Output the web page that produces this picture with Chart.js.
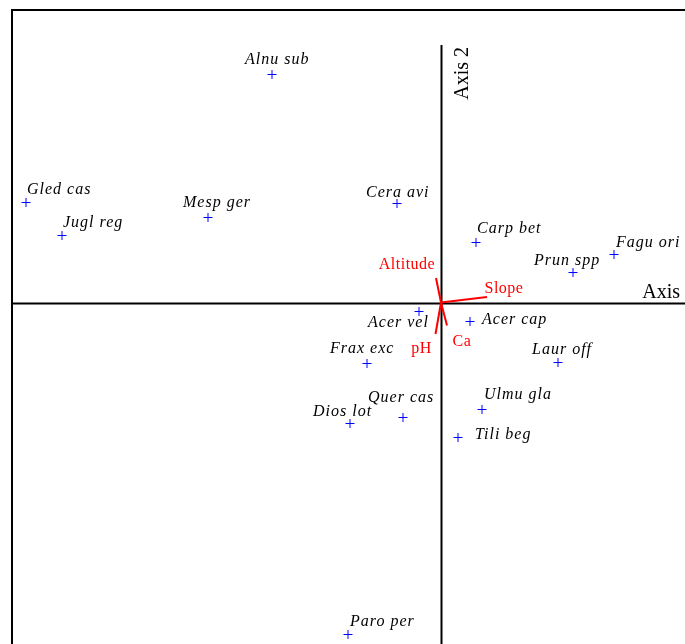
<!DOCTYPE html>
<html>
<head>
<meta charset="utf-8">
<script src="https://cdn.jsdelivr.net/npm/chart.js@4/dist/chart.umd.min.js"></script>
<style>
  html, body { margin: 0; padding: 0; background: #fff; }
  canvas { display: block; }
</style>
</head>
<body>
<canvas id="ordination_biplot" width="685" height="644"></canvas>
<script>
// species scores (axis 1, axis 2)
var species = ['Alnu sub', 'Gled cas', 'Jugl reg', 'Mesp ger', 'Cera avi', 'Carp bet', 'Fagu ori', 'Prun spp',
  'Acer vel', 'Acer cap', 'Frax exc', 'Laur off', 'Quer cas', 'Dios lot', 'Ulmu gla', 'Tili beg', 'Paro per'];
var speciesAxis1 = [-1.69, -4.15, -3.79, -2.33, -0.44, 0.35, 1.73, 1.32, -0.22, 0.29, -0.74, 1.17, -0.38, -0.91, 0.41, 0.17, -0.93];
var speciesAxis2 = [2.28, 1.00, 0.67, 0.85, 0.99, 0.60, 0.48, 0.30, -0.09, -0.19, -0.61, -0.60, -1.15, -1.21, -1.07, -1.35, -3.32];

// environmental vectors (biplot scores)
var envVars = ['Altitude', 'Slope', 'pH', 'Ca'];
var envAxis1 = [-0.05, 0.46, -0.055, 0.06];
var envAxis2 = [0.245, 0.055, -0.315, -0.23];

// label nudges in px (left edge / baseline relative to the point)
var speciesLabelNudge = [[-27, -11], [1, -9], [1, -9], [-25, -11], [-31, -7], [1, -10], [2, -8], [-39, -8],
  [-51, 15], [12, 2], [-37, -11], [-26, -9], [-35, -16], [-37, -8], [2, -11], [17, 1], [2, -9]];
// env labels: centre x / baseline relative to arrow tip
var envLabelNudge = [[-29, -9], [17, -4], [-14, 19], [15, 20]];

var ctx = document.getElementById('ordination_biplot').getContext('2d');

var envDatasets = envVars.map(function (name, i) {
  return {
    type: 'line',
    label: name,
    data: [{ x: 0, y: 0 }, { x: envAxis1[i], y: envAxis2[i] }],
    borderColor: '#ff0000',
    borderWidth: 2,
    pointRadius: 0,
    fill: false
  };
});

var biplotDecor = {
  id: 'biplotDecor',
  beforeDatasetsDraw: function (chart) {
    var c = chart.ctx, a = chart.chartArea;
    var xs = chart.scales.x, ys = chart.scales.y;
    var x0 = Math.round(xs.getPixelForValue(0)) + 0.5;
    var y0 = Math.round(ys.getPixelForValue(0)) + 0.5;
    c.save();
    c.strokeStyle = '#000';
    c.lineWidth = 2;
    // frame (left and top visible)
    c.beginPath();
    c.moveTo(a.left, 700);
    c.lineTo(a.left, a.top);
    c.lineTo(700, a.top);
    c.stroke();
    // axis lines
    c.beginPath();
    c.moveTo(a.left, y0);
    c.lineTo(a.right, y0);
    c.moveTo(x0, ys.getPixelForValue(2.575));
    c.lineTo(x0, a.bottom);
    c.stroke();
    // axis titles
    c.fillStyle = '#000';
    c.font = '20px "Liberation Serif", "Times New Roman", serif';
    c.textAlign = 'right';
    c.textBaseline = 'alphabetic';
    c.fillText('Axis', 680, y0 - 6);
    c.translate(x0 + 26, ys.getPixelForValue(2.575) + 2);
    c.rotate(-Math.PI / 2);
    c.textAlign = 'right';
    c.fillText('Axis 2', 0, 0);
    c.restore();
  },
  afterDatasetsDraw: function (chart) {
    var c = chart.ctx;
    var xs = chart.scales.x, ys = chart.scales.y;
    c.save();
    c.textBaseline = 'alphabetic';
    c.fillStyle = '#000';
    c.font = 'italic 16px "Liberation Serif", "Times New Roman", serif';
    c.letterSpacing = '1px';
    c.textAlign = 'left';
    species.forEach(function (name, i) {
      var px = xs.getPixelForValue(speciesAxis1[i]);
      var py = ys.getPixelForValue(speciesAxis2[i]);
      c.fillText(name, px + speciesLabelNudge[i][0], py + speciesLabelNudge[i][1]);
    });
    c.fillStyle = '#ff0000';
    c.font = '16px "Liberation Serif", "Times New Roman", serif';
    c.letterSpacing = '0.5px';
    c.textAlign = 'center';
    envVars.forEach(function (name, i) {
      var px = xs.getPixelForValue(envAxis1[i]);
      var py = ys.getPixelForValue(envAxis2[i]);
      c.fillText(name, px + envLabelNudge[i][0], py + envLabelNudge[i][1]);
    });
    c.restore();
  }
};

new Chart(ctx, {
  type: 'scatter',
  data: {
    datasets: [{
      label: 'Species',
      data: species.map(function (s, i) { return { x: speciesAxis1[i], y: speciesAxis2[i] }; }),
      pointStyle: 'cross',
      pointRadius: 4.5,
      borderColor: '#0000ff',
      backgroundColor: '#0000ff',
      borderWidth: 1
    }].concat(envDatasets)
  },
  options: {
    responsive: false,
    animation: false,
    layout: { autoPadding: false, padding: { left: 12, top: 10, right: 0, bottom: 0 } },
    scales: {
      x: { type: 'linear', min: -4.29, max: 2.44, display: false },
      y: { type: 'linear', min: -3.415, max: 2.925, display: false }
    },
    plugins: {
      legend: { display: false },
      tooltip: { enabled: false }
    }
  },
  plugins: [biplotDecor]
});
</script>
</body>
</html>
